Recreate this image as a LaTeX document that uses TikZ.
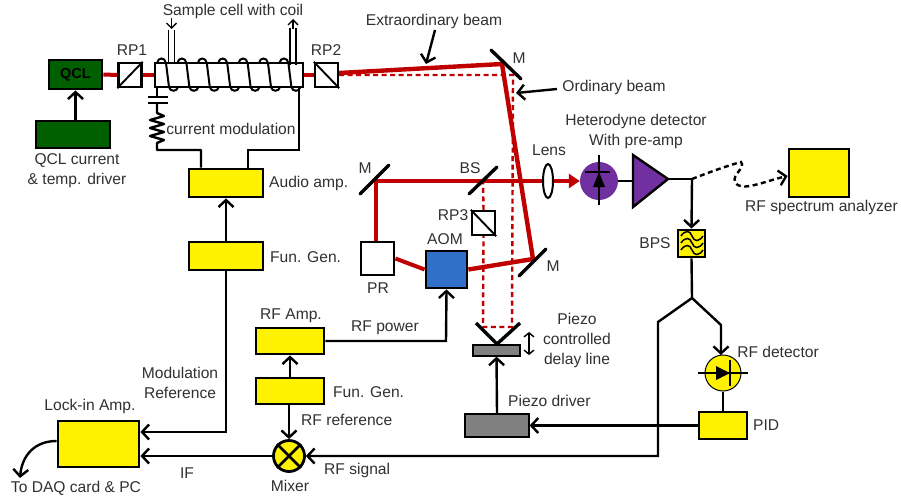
\documentclass[tikz,border=0pt]{standalone}
\usepackage{fontspec}
\setmainfont{Liberation Sans}
\usetikzlibrary{arrows.meta,shapes.geometric}
\definecolor{qgreen}{HTML}{006000}
\definecolor{beamred}{HTML}{C00000}
\definecolor{purp}{HTML}{7030A0}
\definecolor{aomblue}{HTML}{3070C8}
\definecolor{stagegray}{HTML}{808080}
\definecolor{labelgray}{HTML}{303030}
\tikzset{
  blk/.style={draw=black,line width=2.8pt,inner sep=0pt,minimum width=#1},
  yel/.style={blk=#1,fill=yellow},
  grn/.style={blk=#1,fill=qgreen},
  pol/.style={draw=black,line width=2.4pt,fill=white,inner sep=0pt,minimum width=23pt,minimum height=24pt},
  lab/.style={text=labelgray,inner sep=0pt,font=\fontsize{15.6}{17}\selectfont},
  labl/.style={lab,anchor=west},
  wire/.style={draw=black,line width=2.4pt},
  barb/.style={-{Straight Barb[length=7pt,width=15pt,line width=2.4pt]}},
  thinbarb/.style={line width=1.4pt,-{Straight Barb[length=5pt,width=10pt,line width=1.4pt]}},
  beam/.style={draw=beamred,line width=4pt},
  beamfat/.style={draw=beamred,line width=4.4pt},
  dbeam/.style={draw=beamred,line width=2.4pt,dash pattern=on 5pt off 3.5pt},
  mirror/.style={draw=black,line width=3.4pt,line cap=round},
}
\begin{document}
\begin{tikzpicture}[x=1pt,y=-1pt]
\useasboundingbox (0,0) rectangle (901,498);
% named optical points
\coordinate (mtopA) at (491,50);   \coordinate (mtopB) at (521,79);
\coordinate (mrA) at (519,276);    \coordinate (mrB) at (546,249);
\coordinate (mlA) at (360,194);    \coordinate (mlB) at (389,165);
\coordinate (bsA) at (469,194);    \coordinate (bsB) at (497,167);
\coordinate (hitTop) at (502,64);  \coordinate (hitR) at (533,259);
\coordinate (hitL) at (376,181);   \coordinate (hitBS) at (483,181);
\coordinate (dTop) at (513,75);    \coordinate (dR) at (512,327);
\coordinate (dL) at (483,327);
% nodes
\node[grn=53pt,minimum height=29pt] (qcl) at (75.5,74.5) {\fontsize{14.5}{16}\selectfont\bfseries QCL};
\node[grn=74pt,minimum height=27pt] (drv) at (73,134.5) {};
\node[pol] (rp1) at (130,75) {};
\node[pol] (rp2) at (326.5,75) {};
\node[pol] (rp3) at (483.5,223) {};
\node[draw=black,line width=2.4pt,fill=white,inner sep=0,minimum width=148pt,minimum height=24pt] (cell) at (229,75) {};
\node[yel=74pt,minimum height=28pt] (audio) at (226,183) {};
\node[yel=74pt,minimum height=28pt] (fg1) at (226,256) {};
\node[yel=81pt,minimum height=46pt] (lock) at (98.5,444) {};
\node[yel=68pt,minimum height=26pt] (rfamp) at (290,341) {};
\node[yel=68pt,minimum height=26pt] (fg2) at (290,391) {};
\node[circle,draw=black,line width=2.8pt,fill=yellow,inner sep=0,minimum size=31pt] (mix) at (289,456) {};
\node[blk=33pt,fill=white,minimum height=33pt] (pr) at (377.5,258.5) {};
\node[blk=41pt,fill=aomblue,minimum height=37pt] (aom) at (446.5,269.5) {};
\node[draw=black,line width=1.2pt,fill=stagegray,inner sep=0,minimum width=47pt,minimum height=11pt] (stage) at (496.5,350.5) {};
\node[draw=black,line width=1.2pt,fill=stagegray,inner sep=0,minimum width=64pt,minimum height=23pt] (pdrv) at (497,425.5) {};
\node[yel=48pt,minimum height=27pt] (pid) at (723,425.5) {};
\node[circle,fill=yellow,draw=black,line width=1pt,inner sep=0,minimum size=36pt] (rfd) at (723,373) {};
\node[yel=27pt,minimum height=27pt] (bps) at (691.5,243.5) {};
\node[yel=60pt,minimum height=48pt] (rfsa) at (819,173) {};
\node[circle,fill=purp,inner sep=0,minimum size=38pt] (het) at (599,181) {};
\node[draw=black,line width=2pt,fill=white,ellipse,inner sep=0,minimum width=10pt,minimum height=34pt] (lens) at (548,181) {};
% RP diagonals
\draw[line width=1.9pt] (rp1.south west) -- (rp1.north east);
\draw[line width=1.9pt] (rp2.north west) -- (rp2.south east);
\draw[line width=1.9pt] (rp3.north west) -- (rp3.south east);
% beams
\draw[beam] (qcl.east) -- (rp1.west);
\draw[beam] (rp1.east) -- (cell.west);
\draw[beam] (cell.east) -- (rp2.west);
\draw[dbeam] (rp2.east) -- (dTop) -- (dR) -- (dL) -- (rp3.south);
\draw[dbeam] (rp3.north) -- (hitBS);
\draw[beamfat] (rp2.east |- 0,73) -- (hitTop) -- (hitR) -- (aom.east);
\draw[beam] (aom.west) -- (pr.east);
\draw[beam] (pr.north -| hitL) -- (hitL) -- (lens.west);
\draw[beam,-{Triangle[length=11pt,width=14pt]}] (lens.east) -- (het.west);
% mirrors
\draw[mirror] (mtopA) -- (mtopB);
\draw[mirror] (mrA) -- (mrB);
\draw[mirror] (mlA) -- (mlB);
\draw[mirror] (bsA) -- (bsB);
% V retro mirror
\coordinate (vA) at (476,323); \coordinate (vB) at (497,344); \coordinate (vC) at (520,323);
\draw[mirror,line cap=butt] (vA) -- (vB) -- (vC);
\draw[line width=1.4pt,{Straight Barb[length=4pt,width=10pt]}-{Straight Barb[length=4pt,width=10pt]}] (529,332) -- (529,355);
% coil
\foreach \k in {0,...,6}{
  \pgfmathsetmacro{\xx}{157+20.4*\k}
  \draw[line width=2pt,line cap=round] (\xx,63) .. controls (\xx+1,57) and (\xx+8,57) .. (\xx+9,63) -- (\xx+12,87) .. controls (\xx+13,92) and (\xx+20,92) .. (\xx+21,87);
}
% cell leads
\draw[line width=1.8pt] (168.5,30) -- (168.5,63) (174.5,30) -- (174.5,63);
\draw[line width=1.8pt] (290,28) -- (290,65) (296,28) -- (296,65);
\coordinate (leadIn) at (171.5,18); \coordinate (leadInEnd) at (171.5,29);
\coordinate (leadOut) at (293,29); \coordinate (leadOutEnd) at (293,19);
\draw[thinbarb] (leadIn) -- (leadInEnd);
\draw[thinbarb] (leadOut) -- (leadOutEnd);
% circuit under cell
\coordinate (capA) at (157,97); \coordinate (capB) at (157,103);
\draw[wire] (cell.south west -| capA) -- (capA);
\draw[wire] (148,97) -- (168,97);
\draw[wire] (148,103) -- (168,103);
\draw[wire,line join=round] (capB) -- (157,113) -- (164,116) -- (150,120) -- (164,124) -- (150,128) -- (164,132) -- (150,136) -- (164,140) -- (157,143) -- (157,150) -- (201,150) -- (audio.north -| 201,0);
\draw[wire] (cell.south -| 299,0) -- (299,150) -- (248,150) -- (audio.north -| 248,0);
% control wiring
\draw[wire,barb] (drv.north -| qcl) -- (qcl.south);
\draw[wire,barb] (fg1.north) -- (audio.south);
\draw[wire,barb] (fg1.south) -- (226,432) -- (lock.east |- 0,432);
\draw[wire,barb] (mix.west) -- (lock.east |- mix);
\draw[wire,barb] (fg2.north) -- (rfamp.south);
\draw[wire,barb] (fg2.south -| mix) -- (mix.north);
\draw[wire,barb] (rfamp.east) -- (446,341) -- (aom.south);
\draw[wire,barb] (pdrv.north) -- (stage.south);
\draw[wire,barb] (pid.west) -- (pdrv.east);
\draw[wire] (rfd.south) -- (pid.north);
\coordinate (fork) at (692,298);
\draw[wire] (bps.south) -- (fork);
\draw[wire,barb] (fork) -- (721,325) -- (721,355);
\draw[wire,barb] (fork) -- (658,322) -- (658,456) -- (mix.east);
\draw[wire,barb] (lock.west |- 0,441) .. controls (35,441) and (22,455) .. (20,478);
% detector
\draw[line width=2.4pt] (599,155) -- (599,205);
\draw[line width=2.4pt] (585,172) -- (610,172);
\fill (599,172) -- (605,187) -- (593,187) -- cycle;
\coordinate (ampin) at (633,181);
\coordinate (amptip) at (668,179);
\coordinate (jn) at (692,179);
\draw[wire] (het.east) -- (ampin);
\draw[wire,fill=purp,line join=miter] (633,155) -- (633,207) -- (amptip) -- cycle;
\draw[wire] (amptip) -- (jn);
\draw[wire,barb] (jn) -- (bps.north);
\draw[line width=2.4pt,dash pattern=on 5pt off 3.5pt,barb] (jn) .. controls (715,170) and (730,165) .. (741,162) .. controls (746,168) and (732,174) .. (735,182) .. controls (740,193) and (765,181) .. (rfsa.west |- 0,176);
% rf detector diode
\draw[line width=2pt] (698,373) -- (748,373);
\draw[line width=2.4pt] (730,360) -- (730,386);
\fill (730,373) -- (716,366) -- (716,380) -- cycle;
% BPS waves
\foreach \yy in {236,243,250}{
  \draw[line width=1.5pt] (681,\yy) .. controls (685,\yy-6) and (690,\yy-6) .. (692,\yy) .. controls (694,\yy+6) and (699,\yy+6) .. (703,\yy);
}
% mixer cross
\draw[line width=2.6pt] (mix.45) -- (mix.225) (mix.135) -- (mix.315);
% pointer arrows
\coordinate (xA) at (435,30); \coordinate (xB) at (426,64);
\draw[wire,barb] (xA) -- (xB);
\coordinate (oA) at (557,89); \coordinate (oB) at (516,93);
\draw[wire,barb] (oA) -- (oB);
% labels
\node[lab] (t1) at (233,11) {Sample cell with coil};
\node[lab] (t2) at (132,50) {RP1};
\node[lab] (t3) at (326,50) {RP2};
\node[lab,align=center] (t4) at (77,170.5) {QCL current\\[3pt]\& temp. driver};
\node[lab] (t5) at (231,129) {current modulation};
\node[labl] (t6) at (269,183) {Audio amp.};
\node[labl] (t7) at (270,257) {Fun. Gen.};
\node[lab] (t8) at (434,21) {Extraordinary beam};
\node[lab] (t9) at (614,87) {Ordinary beam};
\node[lab] (t10) at (519,58) {M};
\node[lab] (t11) at (365,168) {M};
\node[lab] (t12) at (470,168) {BS};
\node[lab] (t13) at (549,150) {Lens};
\node[lab] (t14) at (453,215) {RP3};
\node[lab] (t15) at (445,239) {AOM};
\node[lab] (t16) at (378,288) {PR};
\node[lab] (t17) at (553,266) {M};
\node[lab,align=center] (t18) at (577,340) {Piezo\\[3pt]controlled\\[3pt]delay line};
\node[lab] (t19) at (385,328) {RF power};
\node[lab] (t20) at (291,316) {RF Amp.};
\node[labl] (t21) at (333,392) {Fun. Gen.};
\node[labl] (t22) at (301,420) {RF reference};
\node[labl] (t23) at (324,470) {RF signal};
\node[lab] (t24) at (187,473) {IF};
\node[lab] (t25) at (290,486) {Mixer};
\node[lab] (t26) at (76,488) {To DAQ card \& PC};
\node[lab] (t27) at (90,406) {Lock-in Amp.};
\node[lab,align=center] (t28) at (180,382.5) {Modulation\\[3pt]Reference};
\node[lab,align=center] (t29) at (636,131.5) {Heterodyne detector\\[3pt]With pre-amp};
\node[labl] (t30) at (745,207) {RF spectrum analyzer};
\node[lab] (t31) at (655,243) {BPS};
\node[lab] (t32) at (778,352) {RF detector};
\node[labl] (t33) at (753,425) {PID};
\node[labl] (t34) at (508,401) {Piezo driver};
\end{tikzpicture}
\end{document}
